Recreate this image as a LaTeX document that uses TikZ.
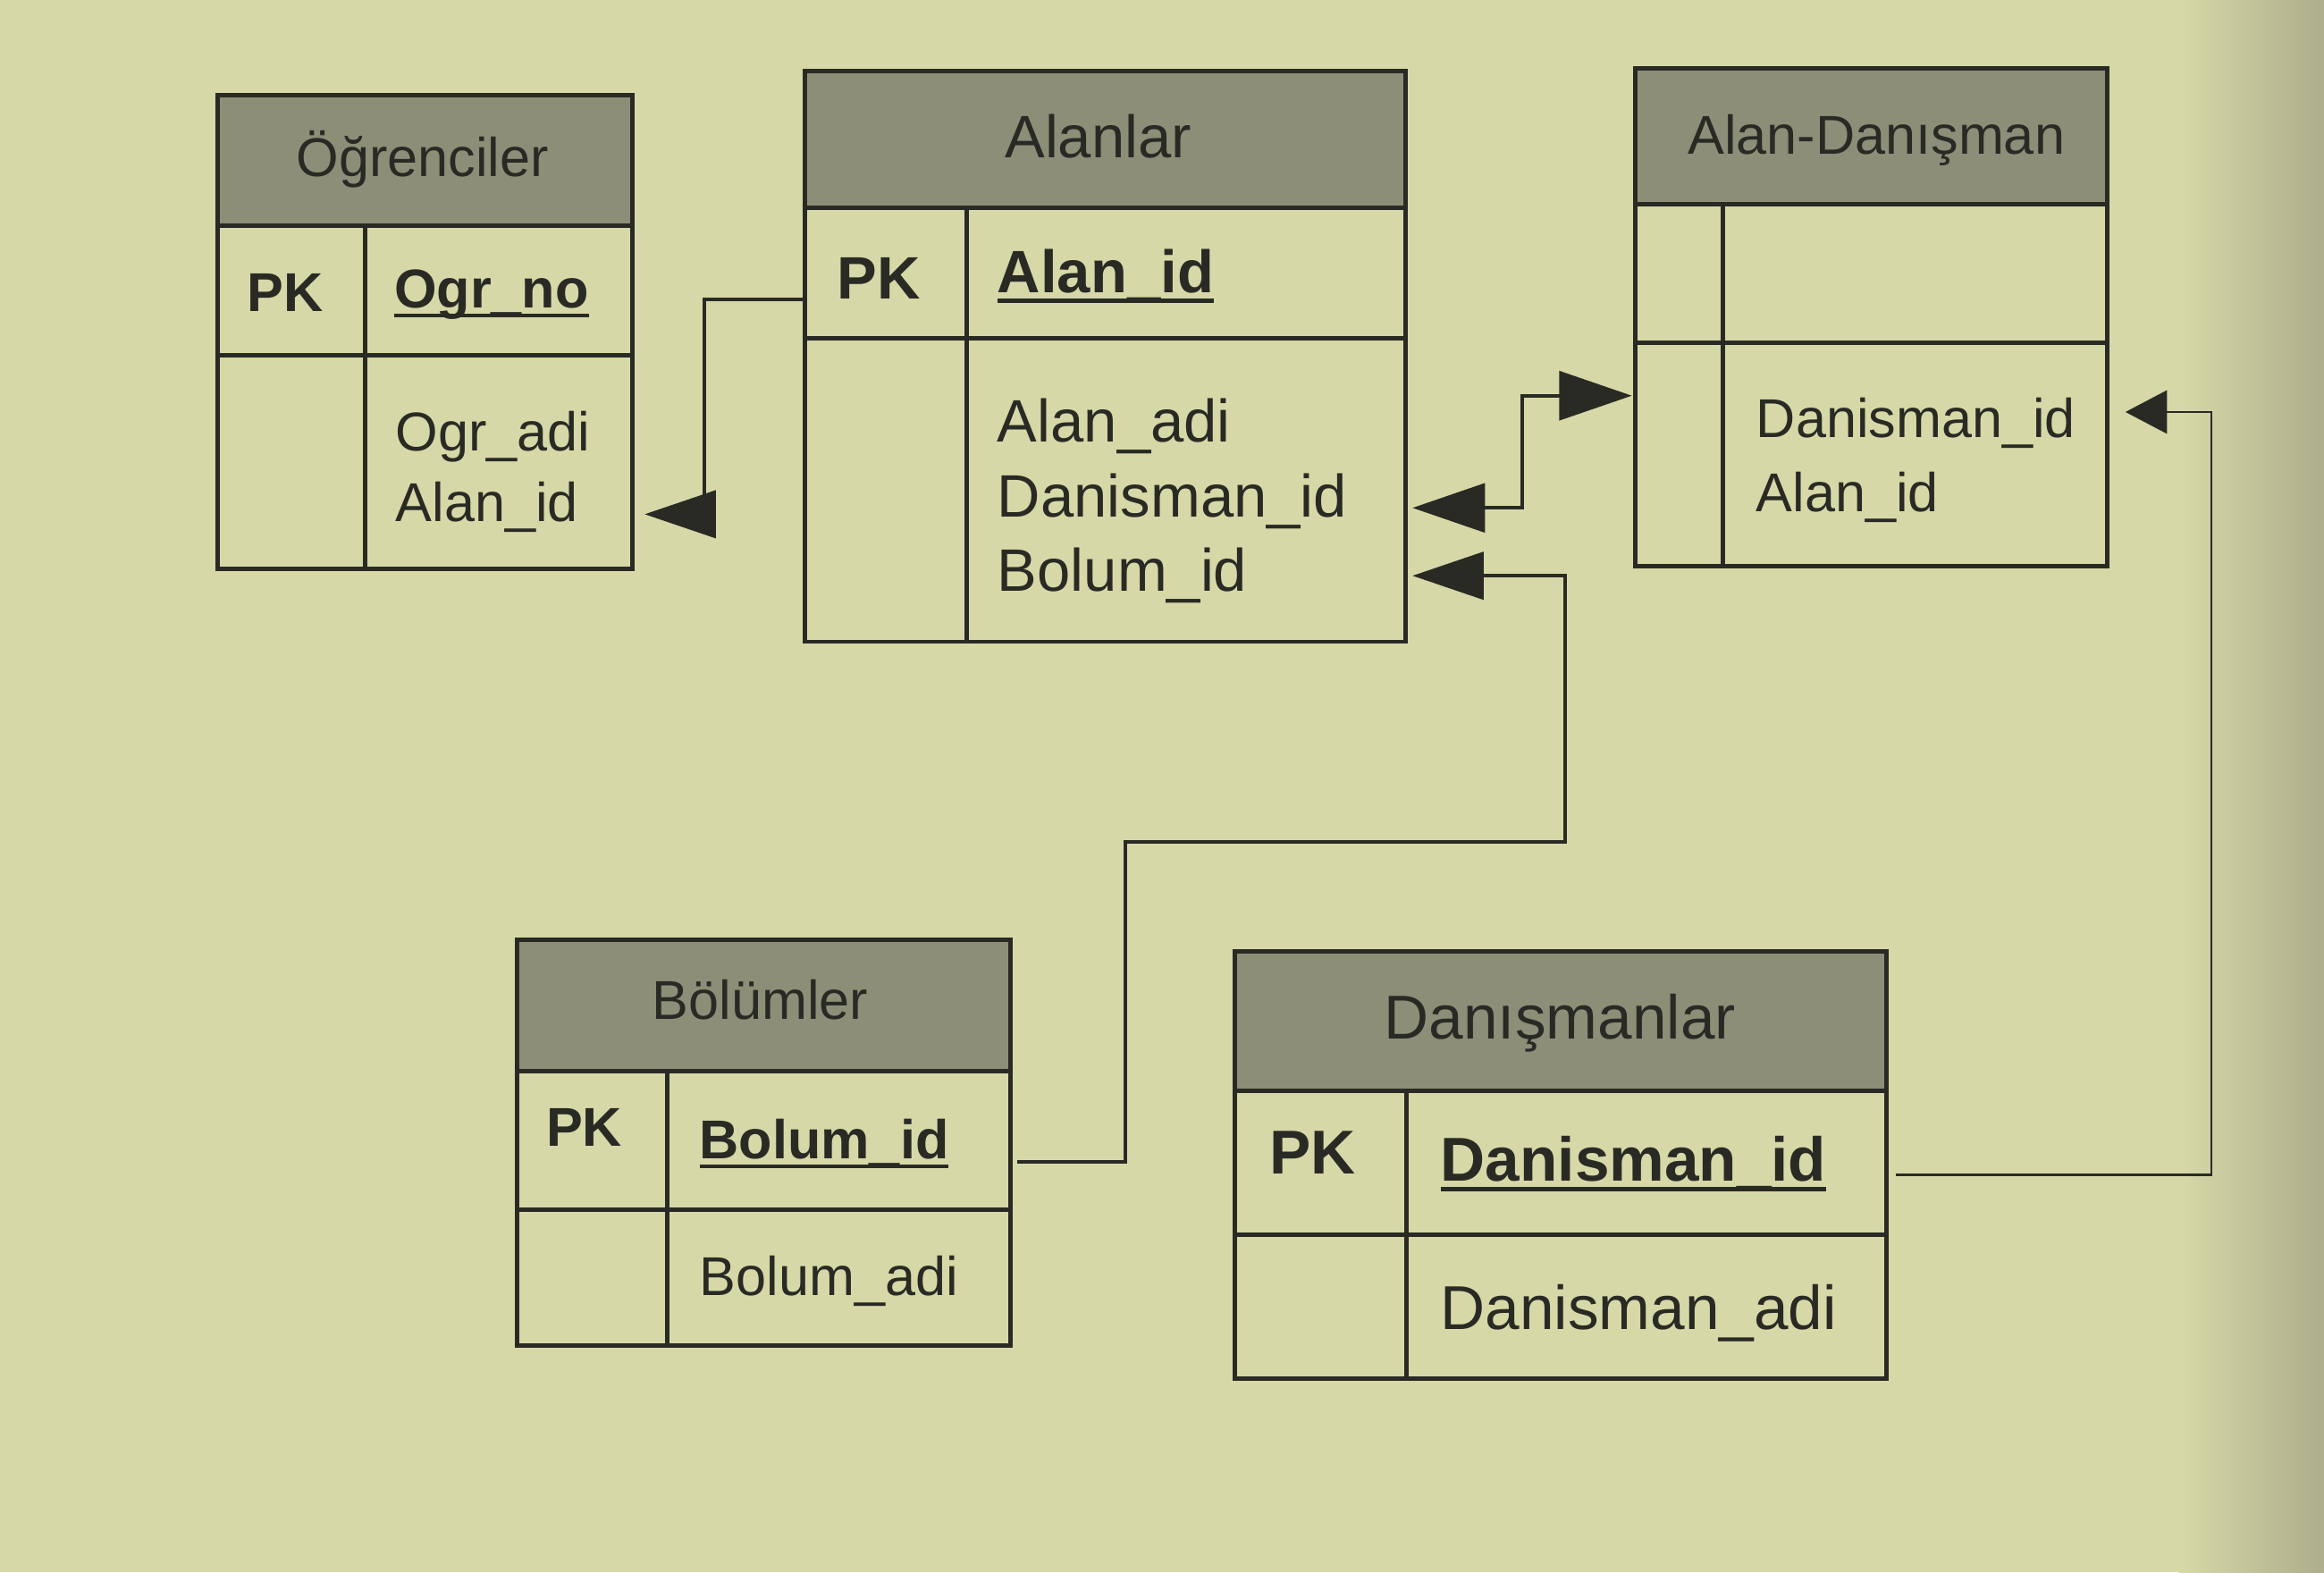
\documentclass[tikz,border=0pt]{standalone}
\usepackage{fontspec}
\setmainfont{Liberation Sans}
\usetikzlibrary{arrows.meta,fit}
\definecolor{paper}{HTML}{D6D9A7}
\definecolor{paperdark}{HTML}{AEAD8C}
\definecolor{hdrgray}{HTML}{8D8E78}
\definecolor{ink}{HTML}{2A2A25}
\newcommand{\keyul}[1]{\setbox0=\hbox{#1}\rlap{\vrule height -0.095em depth 0.165em width \wd0}\box0}
\newcommand{\fsA}{\fontsize{21}{25}\selectfont}
\newcommand{\fsB}{\fontsize{23}{28}\selectfont}
\newcommand{\fsC}{\fontsize{23.8}{29}\selectfont}
\newcommand{\ertable}[8]{%
  \node[hdrbox,  fit={(#2,#5) (#4,#6)}] (#1-head) {};
  \node[cellbox, fit={(#2,#6) (#3,#7)}] (#1-pkcell) {};
  \node[cellbox, fit={(#3,#6) (#4,#7)}] (#1-keycell) {};
  \node[cellbox, fit={(#2,#7) (#3,#8)}] (#1-blank) {};
  \node[cellbox, fit={(#3,#7) (#4,#8)}] (#1-attrs) {};
}
\begin{document}
\begin{tikzpicture}[x=0.02cm, y=-0.02cm,
  hdrbox/.style={draw=ink, fill=hdrgray, line width=1.7pt, inner sep=0pt, outer sep=0pt},
  cellbox/.style={draw=ink, line width=1.7pt, inner sep=0pt, outer sep=0pt},
  txt/.style={text=ink, inner sep=0pt, outer sep=0pt, anchor=base west},
  ttl/.style={text=ink, inner sep=0pt, outer sep=0pt, anchor=base},
  conn/.style={draw=ink, line width=1.35pt},
  fk/.style={-{Triangle[length=0.96cm,width=0.64cm]}},
  fkboth/.style={{Triangle[length=0.98cm,width=0.66cm]}-{Triangle[length=0.98cm,width=0.66cm]}},
  fksmall/.style={-{Triangle[length=0.56cm,width=0.58cm]}},
]
% paper
\fill[paper] (0,0) rectangle (1568,1061);
\shade[left color=paper, right color=paperdark] (1470,0) rectangle (1568,1061);
\useasboundingbox (0,0) rectangle (1568,1061);

% tables
\ertable{ogr}{147}{246.5}{426.5}{64}{152.5}{240}{384}
\ertable{aln}{543}{652}{948.5}{48}{140}{228}{433}
\ertable{ad}{1103.5}{1162.5}{1422}{46}{138}{231}{382}
\ertable{bol}{349}{450}{682}{634}{723}{816}{908}
\ertable{dan}{833}{949}{1273}{642}{736}{833}{930}

% Ogrenciler
\node[ttl, font=\fsA] (ogr-title) at (285,119) {Öğrenciler};
\node[txt, font=\fsA\bfseries] (ogr-pk) at (167,210) {PK};
\node[txt, font=\fsA\bfseries] (ogr-key) at (266,208) {\keyul{Ogr\_no}};
\node[txt, font=\fsA] (ogr-a1) at (267,304) {Ogr\_adi};
\node[txt, font=\fsA] (ogr-a2) at (267,352) {Alan\_id};

% Alanlar
\node[ttl, font=\fsB] (aln-title) at (741,106.5) {Alanlar};
\node[txt, font=\fsB\bfseries] (aln-pk) at (565,201.5) {PK};
\node[txt, font=\fsB\bfseries] (aln-key) at (673,197.5) {\keyul{Alan\_id}};
\node[txt, font=\fsB] (aln-a1) at (673,298) {Alan\_adi};
\node[txt, font=\fsB] (aln-a2) at (673,349) {Danisman\_id};
\node[txt, font=\fsB] (aln-a3) at (673,399) {Bolum\_id};

% Alan-Danisman
\node[ttl, font=\fsA] (ad-title) at (1266,104) {Alan-Danışman};
\node[txt, font=\fsA] (ad-a1) at (1185,295) {Danisman\_id};
\node[txt, font=\fsA] (ad-a2) at (1185,345) {Alan\_id};

% Bolumler
\node[ttl, font=\fsA] (bol-title) at (513,688) {Bölümler};
\node[txt, font=\fsA\bfseries] (bol-pk) at (368.5,773.5) {PK};
\node[txt, font=\fsA\bfseries] (bol-key) at (472,782) {\keyul{Bolum\_id}};
\node[txt, font=\fsA] (bol-a1) at (472,874) {Bolum\_adi};

% Danismanlar
\node[ttl, font=\fsC] (dan-title) at (1052.5,701) {Danışmanlar};
\node[txt, font=\fsC\bfseries] (dan-pk) at (856.5,792) {PK};
\node[txt, font=\fsC\bfseries] (dan-key) at (972,797) {\keyul{Danisman\_id}};
\node[txt, font=\fsC] (dan-a1) at (972,897) {Danisman\_adi};

% connector end points
\coordinate (c1s) at (543,202);
\coordinate (c1e) at (435,347);
\coordinate (c2s) at (953,342.7);
\coordinate (c2e) at (1101,267);
\coordinate (c3s) at (686,784);
\coordinate (c3e) at (953,388.5);
\coordinate (c4s) at (1279,793);
\coordinate (c4e) at (1434,278);

% connectors
\draw[conn, fk] (c1s) -- ++(-68,0) |- (c1e);
\draw[conn, fkboth] (c2s) -- ++(74,0) |- (c2e);
\draw[conn, fk] (c3s) -- ++(73,0) -- ++(0,-216) -- ++(297,0) |- (c3e);
\draw[conn, line width=1pt, fksmall] (c4s) -- ++(213,0) |- (c4e);
\end{tikzpicture}
\end{document}
